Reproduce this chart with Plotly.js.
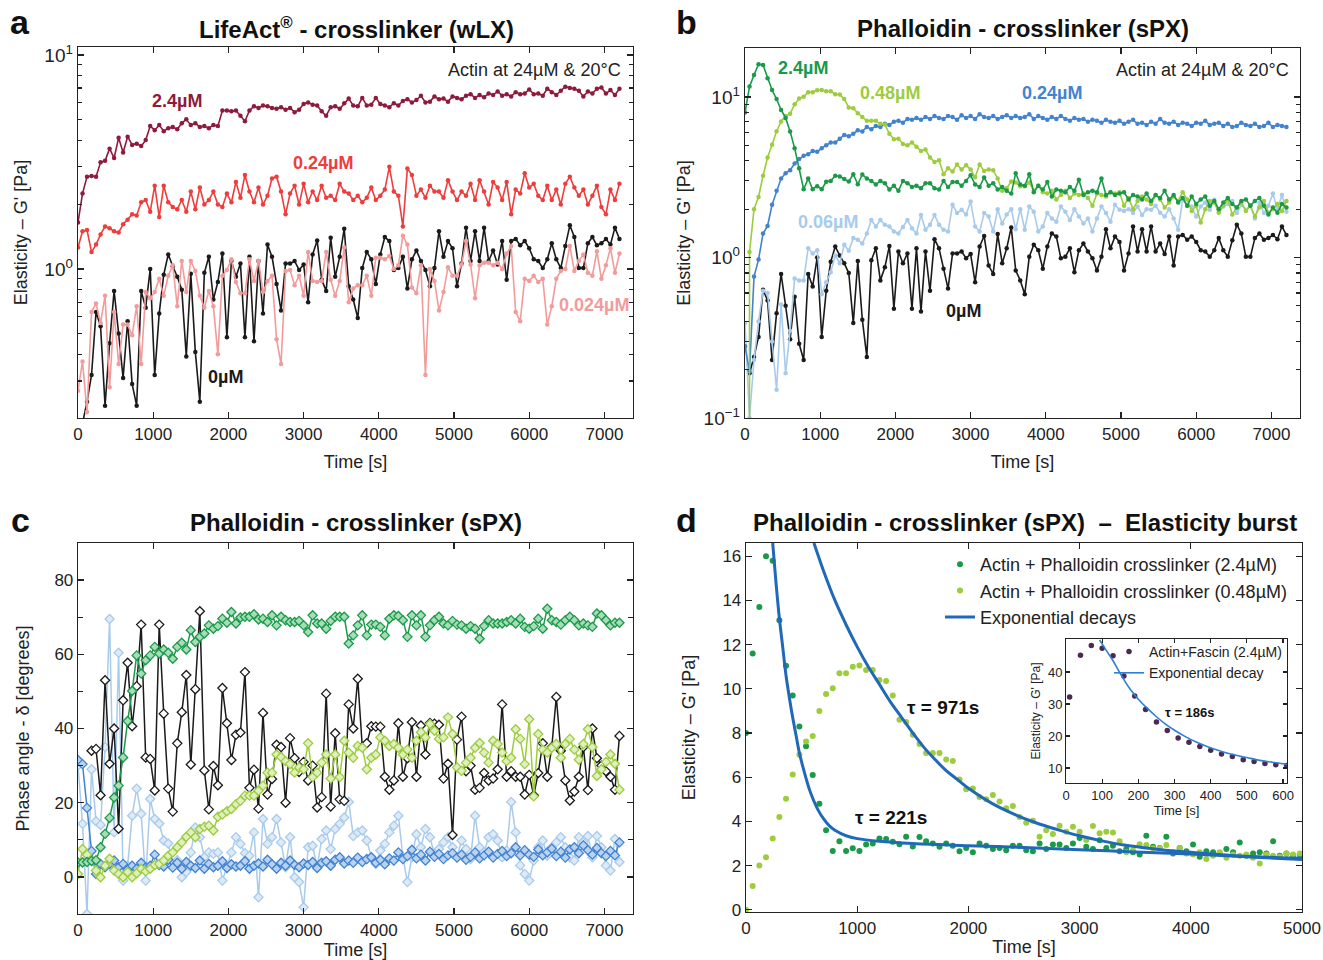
<!DOCTYPE html>
<html><head><meta charset="utf-8">
<script src="https://cdn.plot.ly/plotly-3.0.1.min.js"></script>
<style>html,body{margin:0;padding:0;background:#fff}#chart{width:1323px;height:960px}</style>
</head><body><div id="chart"></div>
<script>
// ---------------- DATA (sampling every 60 s) ----------------
const STEP = 60;

// Panel a : LifeAct crosslinker, elasticity G' [Pa]
const lifeact24 = [1.65,2.25,2.70,2.72,2.70,3.15,3.20,3.65,3.30,4.10,
 3.50,4.15,3.80,3.85,3.75,4.00,4.65,4.45,4.70,4.40,
 4.55,4.60,4.50,4.80,5.00,4.70,4.80,4.60,4.65,4.55,
 4.70,4.65,5.50,5.50,5.45,5.50,5.20,4.90,5.50,5.75,
 5.65,5.80,5.75,5.65,5.60,5.70,5.55,5.65,5.40,5.55,
 5.90,6.00,5.85,5.80,5.45,5.20,5.70,5.75,5.60,5.95,
 6.25,5.80,5.75,6.30,5.80,5.85,6.30,5.90,5.80,5.70,
 5.95,5.80,6.10,6.20,6.00,6.15,6.45,6.00,6.05,6.40,
 6.20,6.25,6.05,6.40,6.30,6.20,6.45,6.55,6.30,6.50,
 6.35,6.60,6.50,6.75,6.45,6.55,6.40,6.70,6.55,6.60,
 6.90,6.55,6.60,6.45,6.95,6.70,6.50,6.80,7.10,7.00,
 6.95,6.80,6.40,6.75,6.60,6.95,7.05,6.60,6.85,6.50,6.95];
const lifeact024 = [1.26,1.50,1.52,1.20,1.30,1.45,1.58,1.55,1.50,1.48,
 1.62,1.70,1.80,1.78,2.05,2.10,1.85,2.45,1.75,2.45,
 2.05,1.95,1.90,2.10,1.85,2.30,1.90,2.40,2.00,2.10,
 2.30,2.00,1.95,2.25,2.05,2.55,2.15,2.75,2.30,2.05,
 2.40,2.00,2.20,2.65,2.70,2.30,1.80,2.25,2.45,2.00,
 2.50,2.05,2.30,2.10,2.45,2.15,2.20,2.10,2.50,2.30,
 2.25,2.10,2.20,2.05,2.15,2.40,2.10,2.20,2.35,3.00,
 2.30,2.20,1.58,2.95,2.75,2.20,2.35,2.15,2.45,2.30,
 2.30,2.15,2.60,2.30,2.10,2.30,2.20,2.50,2.10,2.60,
 2.30,2.00,2.55,2.40,2.10,2.55,1.80,2.35,2.25,2.80,
 2.40,2.50,2.20,2.10,2.45,2.10,2.35,2.00,2.50,2.70,
 2.40,2.20,2.35,2.00,2.20,2.45,1.95,1.80,2.35,2.10,2.50];
const lifeact0024 = [0.27,0.37,0.215,0.63,0.69,0.56,0.75,0.28,0.63,0.36,
 0.55,0.55,0.49,0.67,0.36,0.78,0.73,0.78,0.90,0.75,
 0.93,1.04,0.67,1.09,0.78,1.09,0.98,0.75,0.66,0.79,
 0.67,0.40,0.93,0.99,1.11,0.87,0.77,0.77,1.11,0.88,
 1.09,0.78,0.88,0.93,0.47,0.36,0.98,0.99,0.84,0.93,
 0.75,1.20,0.88,0.87,0.88,1.20,0.89,0.75,0.88,1.26,
 0.70,0.81,0.84,0.84,0.93,0.75,1.13,1.13,1.11,1.15,
 1.00,1.04,1.43,1.30,0.82,0.77,1.04,0.32,1.00,0.88,
 0.64,0.78,1.02,0.93,0.93,1.05,1.35,1.05,0.73,1.04,
 1.07,1.07,1.04,1.07,1.00,1.18,1.28,0.63,0.57,0.90,
 0.88,0.93,0.87,0.90,0.55,0.67,0.90,0.98,1.00,1.28,
 0.98,1.09,1.17,0.96,0.93,1.21,0.90,1.04,1.25,0.96,1.18];
// 0 µM reference (shared by panels a and b)
const actin0 = [null,0.19,0.24,0.32,0.63,0.54,0.23,0.45,0.79,0.50,
 0.31,0.57,0.29,0.23,0.79,0.66,1.00,0.32,0.62,0.94,
 1.17,1.03,0.92,0.80,0.39,0.95,0.41,0.24,0.96,1.14,
 0.72,0.87,1.18,0.48,1.09,0.92,1.06,0.48,1.14,0.46,
 1.09,0.62,1.30,1.14,0.85,0.64,1.06,1.06,1.09,0.99,
 1.05,0.70,1.17,1.36,0.89,0.79,1.40,0.92,1.14,1.54,
 0.83,0.72,0.59,1.01,1.20,1.11,0.85,1.17,1.41,1.35,
 0.99,1.01,1.14,0.81,1.11,1.22,1.09,0.99,0.83,1.01,
 1.50,1.14,1.35,1.25,0.83,1.06,1.56,1.09,1.50,1.09,
 1.56,1.09,1.22,1.05,1.35,0.89,1.35,1.38,1.29,1.35,
 1.25,1.11,1.09,1.01,1.11,1.32,1.11,1.01,1.28,1.60,
 1.41,1.01,1.01,1.32,1.41,1.29,1.32,1.38,1.30,1.56,1.38];

// Panel b (and d) : Phalloidin crosslinker, elasticity G' [Pa]
const phal24 = [8.0,11.6,13.7,16.0,15.8,13.1,11.05,9.7,8.3,7.4,
 6.1,4.8,3.6,2.66,3.1,2.66,2.78,2.66,2.96,3.0,
 3.23,3.2,3.08,2.97,3.3,2.86,3.29,3.1,3.0,2.85,
 3.0,2.9,2.65,2.8,2.6,3.0,2.9,2.75,2.8,2.7,
 2.9,2.9,2.7,2.65,3.0,2.75,2.95,2.95,2.8,3.0,
 3.25,2.85,2.75,3.15,2.8,2.9,2.65,2.75,2.6,2.5,
 3.35,2.85,2.8,3.3,2.55,2.8,2.65,2.95,2.4,2.65,
 2.6,2.55,2.75,2.6,3.05,2.45,2.55,2.6,2.55,3.1,
 2.45,2.55,2.45,2.5,2.55,2.3,2.45,2.4,2.3,2.5,
 2.25,2.45,2.35,2.6,2.3,2.45,2.2,2.35,2.1,2.4,
 2.15,2.3,2.4,2.1,2.25,2.0,2.2,2.35,2.15,2.05,
 2.25,2.3,2.1,2.25,2.35,2.1,1.85,2.05,1.9,2.15,2.05];
const phal048 = [0,1.08,2.0,2.38,3.23,4.2,5.03,6.12,7.02,7.62,
 7.86,9.0,9.77,10.03,10.7,10.7,11.0,11.06,10.85,10.85,
 10.4,10.35,9.7,8.6,8.5,7.92,7.5,7.1,7.1,7.1,
 6.8,6.73,5.9,5.46,5.49,5.1,5.0,5.2,4.9,4.6,
 4.7,4.2,3.94,4.03,3.3,3.6,3.43,3.8,3.53,3.76,
 3.53,3.16,3.79,3.46,3.53,3.5,3.1,2.6,2.7,2.97,
 2.93,2.78,2.78,2.93,2.6,2.8,2.55,2.5,2.6,2.3,
 2.45,2.6,2.35,2.5,2.45,2.5,2.35,2.1,2.5,2.45,
 2.4,2.55,2.5,2.55,2.1,2.35,2.0,2.25,2.4,2.3,
 2.15,2.45,2.3,2.05,2.2,2.4,2.25,2.55,2.3,1.95,
 2.1,1.65,2.0,2.25,2.2,1.9,2.1,2.3,1.85,2.05,
 2.2,1.95,2.1,1.8,2.05,2.25,1.9,2.0,2.15,1.95,2.25];
const phal024 = [0.28,0.196,0.76,0.97,1.41,1.57,2.13,2.6,3.1,3.35,
 3.5,3.85,4.1,4.3,4.4,4.6,4.55,4.8,5.0,5.2,
 5.2,5.5,5.8,5.7,5.9,6.2,6.1,6.5,6.3,6.6,
 6.5,6.8,6.7,7.0,7.1,6.9,7.3,7.2,7.4,7.2,
 7.5,7.3,7.6,7.4,7.3,7.6,7.5,7.2,7.7,7.4,
 7.6,7.3,7.8,7.5,7.4,7.6,7.3,7.5,7.7,7.4,
 7.6,7.4,7.5,7.8,7.3,7.6,7.4,7.2,7.5,7.3,
 7.6,7.3,7.1,7.4,7.2,7.3,7.0,7.2,7.1,6.9,
 7.2,7.0,6.9,7.1,6.8,7.0,7.2,6.8,6.9,6.7,
 7.0,6.8,7.3,6.9,6.8,7.0,6.7,6.9,6.8,6.6,
 6.9,6.8,7.1,6.7,6.8,6.9,6.6,6.8,6.5,6.6,
 6.9,6.7,6.6,6.8,6.5,6.6,6.9,6.5,6.7,6.6,6.5];
const phal006 = [0.39,0.10,0.23,0.40,0.62,0.60,0.30,0.15,0.51,0.19,
 0.35,0.74,0.72,0.72,1.14,1.06,1.11,0.59,0.70,0.81,
 1.03,0.92,1.20,1.10,1.32,1.29,1.22,1.41,1.71,1.56,
 1.71,1.60,1.56,1.45,1.41,1.55,1.71,1.52,1.41,1.84,
 1.49,1.60,1.84,1.60,1.49,1.45,2.13,1.89,1.98,1.85,
 2.23,1.56,1.45,1.89,1.80,1.45,2.00,1.63,1.85,2.00,
 1.50,2.00,1.49,2.08,1.93,1.45,1.56,1.89,1.75,1.67,
 2.08,1.93,1.71,2.00,1.80,1.63,1.75,1.45,1.75,2.08,
 1.89,1.67,2.13,1.98,1.95,2.00,1.89,2.08,1.84,2.00,
 1.98,2.10,1.90,1.80,2.00,1.75,1.49,2.29,2.10,2.08,
 1.80,2.08,2.20,1.98,2.29,1.93,2.08,2.15,2.25,1.89,
 2.13,1.98,2.10,1.75,2.20,1.89,2.10,2.50,2.00,2.45,1.93];

// Panel c : phase angle δ [degrees]
const delta24 = [3.9,3.9,4.0,4.3,4.5,8.0,11.6,15.9,21.4,24.6,
 32.2,42.0,50.1,59.7,54.8,58.4,59.7,62.0,60.2,61.3,
 60.4,58.8,62.0,63.1,61.3,66.5,63.3,64.7,65.6,67.8,
 66.9,67.6,69.6,68.5,71.4,68.3,69.9,70.1,70.1,70.8,
 69.4,69.6,68.7,70.5,67.8,70.1,69.2,68.7,68.7,69.0,
 67.8,66.0,70.5,68.3,68.3,66.9,69.0,70.1,70.1,70.1,
 62.9,65.1,67.8,70.5,65.1,68.0,68.0,67.4,65.1,69.6,
 70.5,70.3,69.2,64.7,70.5,67.8,70.5,64.7,67.8,69.2,
 70.1,68.3,67.8,69.0,68.0,67.8,66.9,67.6,66.9,64.2,
 67.6,69.2,68.3,68.3,68.3,68.7,69.2,68.3,69.6,67.4,
 66.9,67.6,69.6,66.9,72.3,69.2,68.7,68.0,69.2,70.1,
 69.2,67.8,68.3,67.8,67.4,71.0,70.5,69.2,67.8,68.5,68.5];
const delta048 = [0.8,7.5,6.0,4.4,1.7,-0.1,3.0,4.9,1.7,0.8,
 -0.1,1.3,-0.1,1.0,2.2,1.5,2.2,3.2,3.5,4.4,
 5.7,6.6,8.0,9.3,10.8,12.0,10.7,12.9,13.5,13.8,
 12.5,16.2,16.8,17.7,18.3,19.6,20.5,21.9,21.9,21.9,
 23.2,24.6,28.1,28.1,33.0,32.3,31.2,30.4,28.1,29.5,
 29.0,36.0,26.9,28.1,30.8,33.0,26.5,33.0,26.9,36.7,
 33.5,32.1,35.3,34.8,29.0,32.1,33.0,37.6,36.7,35.3,
 35.8,34.8,33.0,34.3,32.1,36.7,39.0,37.6,41.2,39.4,
 37.2,37.6,43.0,38.5,29.5,28.6,30.8,32.1,34.8,36.1,
 33.5,30.8,36.7,35.8,33.5,31.2,32.1,39.8,37.2,30.4,
 42.5,21.7,38.5,34.3,33.5,34.8,35.8,32.1,35.8,37.2,
 34.3,31.6,35.8,39.8,35.0,27.2,29.0,31.0,33.0,30.5,23.5];
const delta024 = [31.5,30.4,18.6,7.0,0.8,3.5,2.6,3.5,4.4,2.6,
 3.5,2.0,3.0,2.2,3.8,2.5,3.0,6.0,3.2,2.8,
 4.6,2.5,3.8,2.2,4.0,3.0,2.4,4.4,2.2,3.5,
 2.6,3.0,4.2,2.4,3.4,2.8,3.0,4.2,2.2,3.0,
 3.6,2.8,4.6,3.4,2.2,3.8,3.0,4.4,3.2,2.6,
 3.6,3.2,4.0,2.4,3.8,4.2,3.0,4.6,5.3,3.6,
 4.4,3.8,5.2,4.0,4.8,5.3,3.8,4.6,3.4,5.0,
 4.4,6.6,4.8,5.6,7.3,5.0,6.0,4.4,6.8,5.4,
 6.2,4.8,5.8,6.4,5.2,6.0,4.6,5.4,6.6,5.0,
 5.8,6.8,5.2,6.2,7.0,5.6,6.4,8.0,5.8,7.2,
 6.0,5.4,7.4,5.8,6.6,7.6,5.6,6.8,5.2,7.4,
 8.0,6.4,8.5,7.2,6.0,7.8,6.4,5.6,7.0,5.8,9.3];
const delta006 = [30.0,14.3,-10.0,29.0,15.0,14.0,35.0,69.5,12.0,60.4,
 -1.0,3.0,16.5,23.8,17.0,-1.0,21.0,15.6,14.4,9.8,
 9.0,3.5,4.5,-0.1,1.3,6.6,13.3,10.7,5.3,6.6,
 6.2,6.6,-1.0,2.6,6.6,10.7,8.9,6.4,5.7,12.0,
 -5.5,15.6,8.9,10.7,15.6,9.3,2.6,10.7,-0.1,-1.4,
 -8.2,8.0,8.4,2.6,10.2,12.5,7.5,12.9,14.3,16.0,
 20.2,11.0,12.0,12.5,9.8,5.3,3.5,7.1,8.9,12.0,
 13.8,16.5,5.3,-1.4,5.3,11.5,8.0,12.9,10.7,6.2,
 7.5,9.3,10.7,8.0,5.3,9.8,7.5,4.8,16.5,8.0,
 6.6,10.7,11.5,9.8,5.3,7.1,20.2,12.0,3.1,0.8,
 -1.0,4.4,8.0,9.8,5.7,8.0,9.3,10.7,8.0,5.3,
 4.4,10.7,9.3,11.0,5.3,11.0,8.0,3.1,1.7,10.2,4.0];
const delta0 = [null,null,null,34.0,34.5,22.0,53.0,30.5,40.0,13.0,
 47.6,57.7,40.6,51.4,68.0,32.2,31.8,23.3,68.0,44.0,
 23.8,17.6,36.0,44.4,54.4,30.3,50.6,71.6,28.7,18.2,
 29.9,24.7,50.9,41.4,31.5,38.3,38.9,55.2,24.0,28.9,
 18.4,44.2,22.2,26.4,35.6,35.0,20.0,37.4,32.0,28.3,
 31.0,26.0,30.0,18.7,21.5,49.4,19.0,38.7,20.9,20.5,
 46.5,40.0,53.4,35.1,36.0,40.6,40.5,40.5,27.0,23.5,
 26.0,41.4,27.0,32.0,41.7,27.0,40.8,33.0,41.5,41.3,
 41.0,26.5,30.5,11.3,37.0,43.2,28.5,30.0,23.5,24.0,
 28.0,26.0,26.5,29.0,46.5,27.0,28.5,27.0,27.0,22.2,
 27.5,22.0,28.0,36.0,27.0,35.0,48.5,34.0,26.0,20.6,
 23.0,27.0,35.0,23.4,40.0,32.0,30.0,28.5,27.0,23.5,38.0];

// Panel d : exponential decay fits
const fit221T = [240,270,300,330,360,390,420,450,480,510,540,570,600,650,700,750,800,900,1000,1200,1500,2000,2500,3000,3500,4000,4500,5000];
const fit221V = [16.6,14.8,13.2,11.9,10.6,9.6,8.7,7.9,7.1,6.5,5.95,5.45,5.05,4.5,4.1,3.8,3.6,3.35,3.22,3.1,3.0,2.9,2.82,2.72,2.62,2.52,2.4,2.28];
const fit971T = [611,700,800,900,1000,1100,1200,1300,1400,1500,1600,1700,1800,1900,2000,2200,2400,2600,2800,3000,3200,3400,3600,3800,4000,4200,4400,4600,4800,5000];
const fit971V = [16.6,15.3,14.0,12.9,11.9,11.0,10.2,9.4,8.7,8.0,7.35,6.8,6.3,5.9,5.5,4.85,4.35,3.95,3.63,3.35,3.12,2.93,2.8,2.68,2.6,2.52,2.45,2.4,2.36,2.33];
const burstMaxT = 5000;

// Inset : Actin + Fascin (2.4 µM)
const fascinT = [10,40,70,100,130,160,190,220,250,280,310,340,370,400,430,460,490,520,550,580,610];
const fascinV = [32.2,45.2,48.3,47.4,45.1,38.7,32.5,28.3,24.4,21.7,19.4,18.0,16.7,15.5,14.4,13.6,12.6,12.0,11.4,11.0,10.8];
const fit186T = [93,110,130,150,175,200,225,250,275,300,330,360,390,420,450,480,510,540,570,600,611];
const fit186V = [50,47.0,43.5,39.5,35.0,31.5,28.6,26.0,23.7,21.8,19.8,18.1,16.7,15.5,14.5,13.7,13.0,12.3,11.8,11.3,11.1];

// ---------------- STYLE ----------------
const FONT = 'Liberation Sans, Arial, Helvetica, sans-serif';
const W = 1323, H = 960;
const px = x => x / W;
const py = y => 1 - y / H;
const times = arr => arr.map((_, i) => i * STEP);

const C = {
  darkred: '#8e1a3d', red: '#ee3d3d', pink: '#f39b9b', black: '#1a1a1a',
  dgreen: '#1a9a48', lgreen: '#9dcc3e', blue: '#4282cf', lblue: '#a8cbec',
  fit: '#2068b8', purple: '#4a2a52', fit2: '#2f7fd2'
};

function lm(x, y, color, xa, ya, extra) {
  return Object.assign({
    type: 'scatter', mode: 'lines+markers', x: x, y: y, xaxis: xa, yaxis: ya,
    line: {color: color, width: 1.6}, marker: {color: color, size: 4.5},
    showlegend: false, hoverinfo: 'skip'
  }, extra || {});
}
function dia(y, color, fill, xa, ya) {
  return {
    type: 'scatter', mode: 'lines+markers', x: times(y), y: y, xaxis: xa, yaxis: ya,
    line: {color: color, width: 1.5},
    marker: {symbol: 'diamond', size: 7, color: fill, line: {color: color, width: 1.3}},
    showlegend: false, hoverinfo: 'skip'
  };
}

const traces = [
  // panel a
  lm(times(actin0), actin0, C.black, 'x', 'y'),
  lm(times(lifeact0024), lifeact0024, C.pink, 'x', 'y'),
  lm(times(lifeact024), lifeact024, C.red, 'x', 'y'),
  lm(times(lifeact24), lifeact24, C.darkred, 'x', 'y'),
  // panel b
  lm(times(actin0), actin0, C.black, 'x2', 'y2'),
  lm(times(phal006), phal006, C.lblue, 'x2', 'y2'),
  lm(times(phal024), phal024, C.blue, 'x2', 'y2'),
  lm(times(phal048), phal048, C.lgreen, 'x2', 'y2'),
  lm(times(phal24), phal24, C.dgreen, 'x2', 'y2'),
  // panel c
  dia(delta006, C.lblue, '#dfeaf7', 'x3', 'y3'),
  dia(delta024, C.blue, '#b8d2f0', 'x3', 'y3'),
  dia(delta0, C.black, '#ffffff', 'x3', 'y3'),
  dia(delta048, C.lgreen, '#dff0bf', 'x3', 'y3'),
  dia(delta24, C.dgreen, '#a6dcb8', 'x3', 'y3'),
];
// panel d
const tb = times(phal24).filter(t => t < burstMaxT);
traces.push({type:'scatter', mode:'markers', x: tb, y: phal24.slice(0, tb.length), xaxis:'x4', yaxis:'y4',
  marker:{color:C.dgreen, size:6}, name:'Actin + Phalloidin crosslinker (2.4µM)', legend:'legend', hoverinfo:'skip'});
traces.push({type:'scatter', mode:'markers', x: tb, y: phal048.slice(0, tb.length), xaxis:'x4', yaxis:'y4',
  marker:{color:C.lgreen, size:6}, name:'Actin + Phalloidin crosslinker (0.48µM)', legend:'legend', hoverinfo:'skip'});
traces.push({type:'scatter', mode:'lines', x: fit221T, y: fit221V, xaxis:'x4', yaxis:'y4', line:{color:C.fit, width:3, shape:'spline'},
  name:'Exponential decays', legend:'legend', hoverinfo:'skip'});
traces.push({type:'scatter', mode:'lines', x: fit971T, y: fit971V, xaxis:'x4', yaxis:'y4', line:{color:C.fit, width:3, shape:'spline'},
  showlegend:false, hoverinfo:'skip'});
// inset
traces.push({type:'scatter', mode:'markers', x: fascinT, y: fascinV, xaxis:'x5', yaxis:'y5',
  marker:{color:C.purple, size:5.5}, name:'Actin+Fascin (2.4µM)', legend:'legend2', hoverinfo:'skip'});
traces.push({type:'scatter', mode:'lines', x: fit186T, y: fit186V, xaxis:'x5', yaxis:'y5',
  line:{color:C.fit2, width:1.6, shape:'spline'}, name:'Exponential decay', legend:'legend2', hoverinfo:'skip'});

function ax(extra) {
  return Object.assign({
    showline: true, linecolor: '#222', linewidth: 1.3, mirror: 'ticks',
    ticks: 'inside', ticklen: 6, tickwidth: 1.2, tickcolor: '#222',
    showgrid: false, zeroline: false, automargin: false, fixedrange: true,
    tickfont: {family: FONT, size: 17, color: '#222'}
  }, extra);
}
const ttl = (t, s, size) => ({text: t, standoff: s, font: {family: FONT, size: size || 18, color: '#222'}});
const minorLog = [0.2,0.3,0.4,0.5,0.6,0.7,0.8,0.9,2,3,4,5,6,7,8,9,20];
const sup = n => '10<sup>' + n + '</sup>';
const logFont = {family: FONT, size: 19, color: '#222'};

const layout = {
  width: W, height: H, margin: {l:0, r:0, t:0, b:0},
  paper_bgcolor: '#fff', plot_bgcolor: '#fff',
  font: {family: FONT, color: '#222'},
  xaxis: ax({domain:[px(78), px(633)], range:[0,7380], tick0:0, dtick:1000, anchor:'y', title: ttl('Time [s]', 12)}),
  yaxis: ax({domain:[py(418), py(47)], type:'log', range:[-0.696, 1.037], tickmode:'array', tickvals:[1,10], ticktext:[sup(0), sup(1)],
    tickfont: logFont,
    minor:{tickmode:'array', tickvals:minorLog, ticklen:4, ticks:'inside', tickcolor:'#222'}, anchor:'x', title: ttl("Elasticity – G' [Pa]", 12)}),
  xaxis2: ax({domain:[px(745), px(1300)], range:[0,7380], tick0:0, dtick:1000, anchor:'y2', title: ttl('Time [s]', 12)}),
  yaxis2: ax({domain:[py(418), py(48)], type:'log', range:[-1, 1.305], tickmode:'array', tickvals:[0.1,1,10], ticktext:[sup('−1'), sup(0), sup(1)],
    tickfont: logFont,
    minor:{tickmode:'array', tickvals:minorLog, ticklen:4, ticks:'inside', tickcolor:'#222'}, anchor:'x2', title: ttl("Elasticity – G' [Pa]", 8)}),
  xaxis3: ax({domain:[px(78), px(633)], range:[0,7380], tick0:0, dtick:1000, anchor:'y3', title: ttl('Time [s]', 2)}),
  yaxis3: ax({domain:[py(914), py(543)], range:[-10,90], tickmode:'array', tickvals:[0,20,40,60,80],
    minor:{dtick:10, tick0:0, ticklen:5, ticks:'inside', tickcolor:'#222'}, anchor:'x3', title: ttl('Phase angle - δ [degrees]', 20)}),
  xaxis4: ax({domain:[px(746), px(1302)], range:[0,5000], tick0:0, dtick:1000, anchor:'y4', title: ttl('Time [s]', 3)}),
  yaxis4: ax({domain:[py(912), py(543)], range:[-0.1,16.6], tick0:0, dtick:2, anchor:'x4', title: ttl("Elasticity – G' [Pa]", 22)}),
  xaxis5: ax({domain:[px(1066), px(1287)], range:[0,611], tick0:0, dtick:100, anchor:'y5', ticklen:4, linewidth:1,
    tickfont:{family:FONT, size:13, color:'#222'}, title: ttl('Time [s]', 1, 13)}),
  yaxis5: ax({domain:[py(783), py(639)], range:[5.3,50.3], tickmode:'array', tickvals:[10,20,30,40], anchor:'x5', ticklen:4, linewidth:1,
    tickfont:{family:FONT, size:13, color:'#222'}, title: ttl("Elasticity – G' [Pa]", 4, 12)}),
  legend: {x: px(1292), xanchor:'right', y: py(546), yanchor:'top', bgcolor:'rgba(0,0,0,0)',
    font:{family:FONT, size:18, color:'#222'}, itemwidth:30, tracegroupgap:0},
  legend2: {x: px(1287), xanchor:'right', y: py(636), yanchor:'top', bgcolor:'rgba(255,255,255,0)', borderwidth:0,
    font:{family:FONT, size:14, color:'#222'}, itemwidth:30, tracegroupgap:0},
  annotations: []
};

function note(text, x, y, size, color, bold, anchor) {
  layout.annotations.push({text: bold ? '<b>' + text + '</b>' : text, x: px(x), y: py(y), xref:'paper', yref:'paper',
    xanchor: anchor || 'center', yanchor:'middle', showarrow:false, font:{family:FONT, size:size, color:color}});
}
// panel letters & titles
note('a', 20, 22, 34, '#111', true); note('b', 687, 22, 34, '#111', true);
note('c', 20, 520, 34, '#111', true); note('d', 687, 520, 34, '#111', true);
note('LifeAct<sup>®</sup> - crosslinker (wLX)', 356, 28, 24, '#111', true);
note('Phalloidin - crosslinker (sPX)', 1023, 28, 24, '#111', true);
note('Phalloidin - crosslinker (sPX)', 356, 522, 24, '#111', true);
note('Phalloidin - crosslinker (sPX)  –  Elasticity burst', 1025, 522, 24, '#111', true);
// panel a labels
note('Actin at 24µM & 20°C', 623, 70, 18, '#222', false, 'right');
note('2.4µM', 177, 101, 18, C.darkred, true);
note('0.24µM', 323, 163, 18, C.red, true);
note('0.024µM', 594, 305, 18, C.pink, true);
note('0µM', 225, 377, 18, C.black, true);
// panel b labels
note('Actin at 24µM & 20°C', 1291, 70, 18, '#222', false, 'right');
note('2.4µM', 803, 68, 18, C.dgreen, true);
note('0.48µM', 890, 93, 18, C.lgreen, true);
note('0.24µM', 1052, 93, 18, C.blue, true);
note('0.06µM', 828, 222, 18, C.lblue, true);
note('0µM', 963, 311, 18, C.black, true);
// panel d labels
note('τ = 971s', 943, 707, 19, '#111', true);
note('τ = 221s', 891, 817, 19, '#111', true);
note('τ = 186s', 1190, 712, 13, '#111', true);

Plotly.newPlot('chart', traces, layout, {staticPlot: true, displayModeBar: false});
</script>
</body></html>
